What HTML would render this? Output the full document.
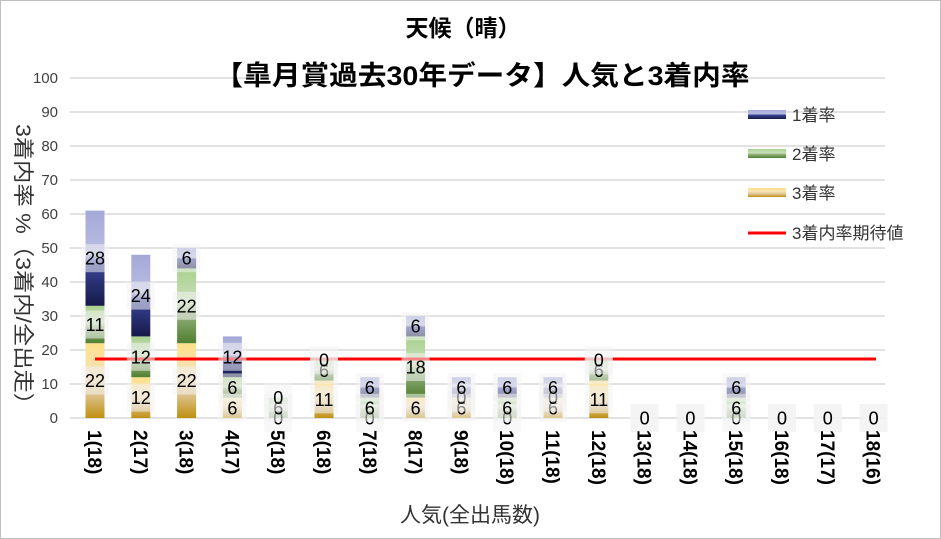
<!DOCTYPE html><html><head><meta charset="utf-8"><style>body{margin:0;background:#fff}svg{display:block;font-family:"Liberation Sans","Noto Sans CJK JP",sans-serif}</style></head><body>
<svg width="941" height="539" xmlns="http://www.w3.org/2000/svg">
<defs>
<linearGradient id="g1" x1="0" y1="0" x2="0" y2="1"><stop offset="0" stop-color="#a3a8d8"/><stop offset="0.45" stop-color="#babde0"/><stop offset="0.55" stop-color="#3a4499"/><stop offset="1" stop-color="#161a48"/></linearGradient>
<linearGradient id="g2" x1="0" y1="0" x2="0" y2="1"><stop offset="0" stop-color="#a9d18e"/><stop offset="0.45" stop-color="#c9dfba"/><stop offset="0.6" stop-color="#92b07a"/><stop offset="1" stop-color="#507f30"/></linearGradient>
<linearGradient id="g3" x1="0" y1="0" x2="0" y2="1"><stop offset="0" stop-color="#ffe08a"/><stop offset="0.4" stop-color="#f6e3b8"/><stop offset="0.7" stop-color="#dcc08a"/><stop offset="1" stop-color="#bf900e"/></linearGradient>
</defs>
<rect x="0.5" y="0.5" width="940" height="538" fill="#fff" stroke="#bfbfbf"/>
<g stroke="#d9d9d9" stroke-width="1.5">
<line x1="70" x2="885" y1="78" y2="78"/><line x1="70" x2="885" y1="112" y2="112"/><line x1="70" x2="885" y1="146" y2="146"/><line x1="70" x2="885" y1="180" y2="180"/><line x1="70" x2="885" y1="214" y2="214"/><line x1="70" x2="885" y1="248" y2="248"/><line x1="70" x2="885" y1="282" y2="282"/><line x1="70" x2="885" y1="316" y2="316"/><line x1="70" x2="885" y1="350" y2="350"/><line x1="70" x2="885" y1="384" y2="384"/><line x1="70" x2="885" y1="418" y2="418"/>
</g>
<g font-size="15" fill="#404040" text-anchor="end">
<text x="58" y="83">100</text><text x="58" y="117">90</text><text x="58" y="151">80</text><text x="58" y="185">70</text><text x="58" y="219">60</text><text x="58" y="253">50</text><text x="58" y="287">40</text><text x="58" y="321">30</text><text x="58" y="355">20</text><text x="58" y="389">10</text><text x="58" y="423">0</text>
</g>
<g id="bars"></g>
<line x1="95" x2="876" y1="359" y2="359" stroke="#ff0000" stroke-width="3"/>
<g id="labels" font-size="18" fill="#000" text-anchor="middle"></g>
<text x="463" y="36" font-size="23" font-weight="bold" text-anchor="middle">天候（晴）</text>
<rect x="250" y="60" width="480" height="34" fill="#fff"/>
<text x="482" y="85" font-size="27" font-weight="bold" text-anchor="middle" textLength="535" lengthAdjust="spacingAndGlyphs">【皐月賞過去30年データ】人気と3着内率</text>
<text x="470" y="522" font-size="21" text-anchor="middle" fill="#333">人気(全出馬数)</text>
<text transform="translate(16,124) rotate(90)" font-size="21" fill="#333" textLength="292" lengthAdjust="spacingAndGlyphs">3着内率 %（3着内/全出走）</text>
<g font-size="17" fill="#333">
<rect x="748" y="110" width="38" height="9" fill="url(#g1)"/><text x="792" y="121">1着率</text>
<rect x="748" y="149" width="38" height="9" fill="url(#g2)"/><text x="792" y="160">2着率</text>
<rect x="748" y="188" width="38" height="9" fill="url(#g3)"/><text x="792" y="199">3着率</text>
<line x1="748" x2="786" y1="233" y2="233" stroke="#f00" stroke-width="3"/><text x="792" y="239">3着内率期待値</text>
</g>
<g id="xl" font-size="19" font-weight="bold" fill="#000"></g>
<script>
var d=[[22,11,28],[12,12,24],[22,22,6],[6,6,12],[0,6,0],[11,6,0],[0,6,6],[6,18,6],[6,0,6],[0,6,6],[6,0,6],[11,6,0],[0,0,0],[0,0,0],[0,6,6],[0,0,0],[0,0,0],[0,0,0]];
var n=["18","17","18","17","18","18","18","17","18","18","18","18","18","18","18","18","17","16"];
var b=document.getElementById('bars'),l=document.getElementById('labels'),x=document.getElementById('xl'),ns="http://www.w3.org/2000/svg";
function el(p,t,a,tx){var e=document.createElementNS(ns,t);for(var k in a)e.setAttribute(k,a[k]);if(tx!=null)e.textContent=tx;p.appendChild(e);}
for(var i=0;i<18;i++){var cx=95+i*45.8,y=418;var gs=['g3','g2','g1'];
for(var j=0;j<3;j++){var h=d[i][j]*3.4;if(h>0){el(b,'rect',{x:cx-9.5,y:y-h,width:19,height:h,fill:'url(#'+gs[j]+')'});}
var ly=y-h/2;el(l,'rect',{x:cx-14,y:ly-14,width:28,height:28,fill:'#f2f2f2',opacity:0.55});el(l,'text',{x:cx,y:ly+6.5},String(d[i][j]));y-=h;}
el(x,'text',{transform:'translate('+(cx-7)+',430) rotate(90)'},(i+1)+'('+n[i]+')');}
</script>
</svg></body></html>
